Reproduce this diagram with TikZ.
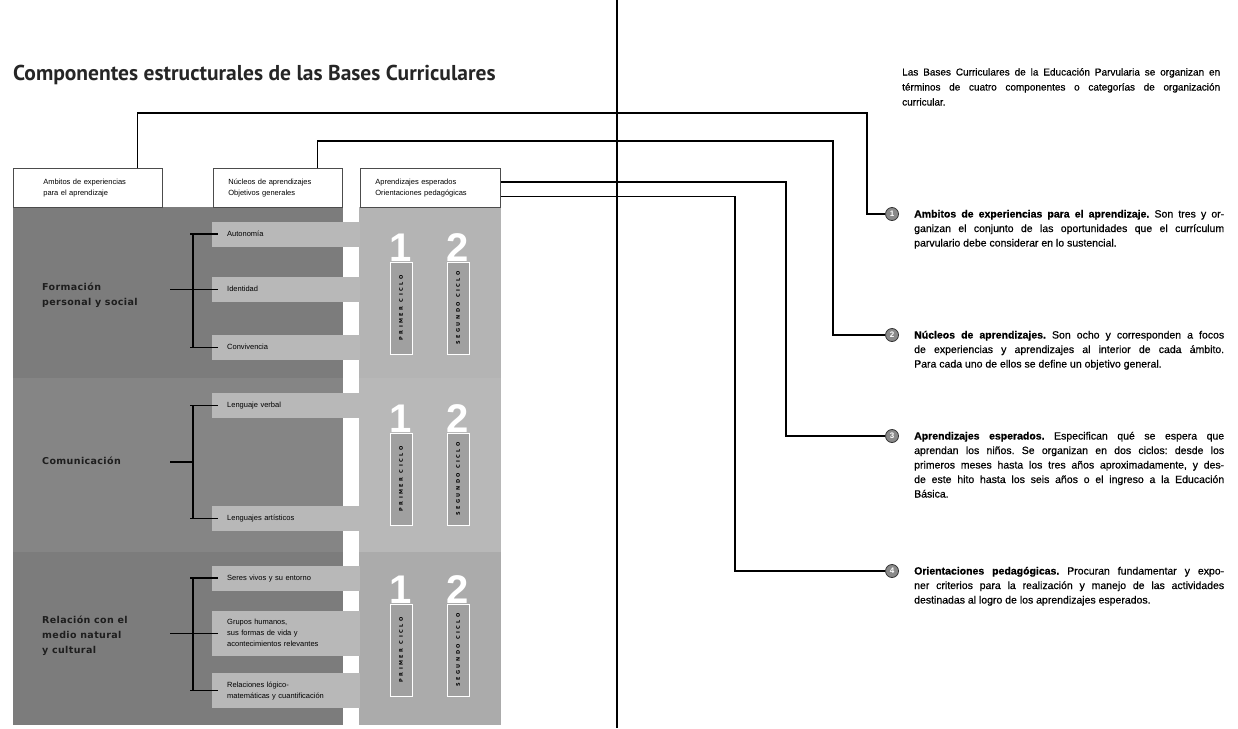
\documentclass[tikz,border=0pt]{standalone}
\usepackage{fontspec}
\setmainfont{Liberation Sans}
\newfontfamily\titlefont{PT Sans}
\newfontfamily\labelfont[LetterSpace=4]{DejaVu Sans}
\newfontfamily\ciclofont[LetterSpace=50]{DejaVu Sans}
\newfontfamily\descfont[FakeBold=0.6]{Liberation Sans}
\usepackage{xcolor}
\usepackage{tikz}
\usetikzlibrary{calc}
\definecolor{panelgray}{RGB}{124, 124, 124}
\definecolor{panelgraymid}{RGB}{133, 133, 133}
\definecolor{softgray}{RGB}{180, 180, 180}
\definecolor{softgraymid}{RGB}{184, 184, 184}
\definecolor{cyclegray}{RGB}{160, 160, 160}
\definecolor{inkgray}{RGB}{30, 30, 30}
\definecolor{dotgray}{RGB}{138, 138, 138}
\newcommand{\indented}[2]{\hspace*{#1}\begin{tabular}{@{}l@{}}#2\end{tabular}}
\frenchspacing

\begin{document}
\begin{tikzpicture}[x=1pt, y=-1pt,
    headbox/.style={draw=black!70, fill=white, line width=0.8pt, anchor=north west, minimum height=39pt,
        inner xsep=0pt, align=left, font=\fontsize{7.5}{11.5}\selectfont},
    itembox/.style={fill=softgraymid, anchor=west, inner xsep=0pt, inner ysep=0pt, text width=148pt,
        minimum height=25pt, align=left, font=\fontsize{7.5}{11}\selectfont},
    ambito/.style={anchor=west, align=left, inner sep=0pt, text=inkgray,
        font=\labelfont\bfseries\fontsize{9.5}{15}\selectfont},
    cyclebox/.style={draw=white, line width=1pt, fill=cyclegray, rotate=90, minimum width=92pt,
        minimum height=22pt, inner sep=0pt, text=black, font=\ciclofont\bfseries\fontsize{5}{5}\selectfont},
    digit/.style={anchor=base, inner sep=0pt, text=white, font=\bfseries\fontsize{40}{40}\selectfont},
    numdot/.style={circle, fill=dotgray, draw=black!80, line width=0.8pt, minimum size=13pt, inner sep=0pt,
        text=white, font=\bfseries\fontsize{8}{8}\selectfont},
    desc/.style={anchor=base west, inner sep=0pt, text width=310pt, align=justify,
        font=\descfont\fontsize{10.5}{14.5}\selectfont},
    conn/.style={line width=1.2pt, black},
    bracket/.style={line width=1.2pt, black}]
\useasboundingbox (0,0) rectangle (1238,728);

% title
\node[anchor=base west, inner sep=0pt, text=black!85, font=\titlefont\bfseries\fontsize{21.5}{24}\selectfont]
    (title) at (13,80) {Componentes estructurales de las Bases Curriculares};

% panels
\fill[panelgray] (13,207) rectangle (343,378);
\fill[panelgraymid] (13,378) rectangle (343,552);
\fill[panelgray] (13,552) rectangle (343,725);
\fill[softgray] (359,207) rectangle (501,378);
\fill[softgraymid] (359,378) rectangle (501,552);
\fill[softgray!95!black] (359,552) rectangle (501,725);

% column heads
\node[headbox, text width=149pt] (ambitos) at (13,168) {\indented{30pt}{Ambitos de experiencias\\para el aprendizaje}};
\node[headbox, text width=129pt] (nucleos) at (213,168) {\indented{15pt}{Núcleos de aprendizajes\\Objetivos generales}};
\node[headbox, text width=140pt] (aprend) at (360,168) {\indented{15pt}{Aprendizajes esperados\\Orientaciones pedagógicas}};

% ambitos
\node[ambito] (formacion) at (42,295) {Formación\\personal y social};
\node[ambito] (comunicacion) at (42,461) {Comunicación};
\node[ambito] (relacion) at (42,636) {Relación con el\\medio natural\\y cultural};

% nucleos
\node[itembox] (autonomia) at (212,234) {\indented{15pt}{Autonomía}};
\node[itembox] (identidad) at (212,289.5) {\indented{15pt}{Identidad}};
\node[itembox] (convivencia) at (212,347.5) {\indented{15pt}{Convivencia}};
\node[itembox] (verbal) at (212,405.5) {\indented{15pt}{Lenguaje verbal}};
\node[itembox] (artisticos) at (212,518.5) {\indented{15pt}{Lenguajes artísticos}};
\node[itembox] (seres) at (212,578) {\indented{15pt}{Seres vivos y su entorno}};
\node[itembox, minimum height=45pt] (grupos) at (212,633.5) {\indented{15pt}{Grupos humanos,\\sus formas de vida y\\acontecimientos relevantes}};
\node[itembox, minimum height=35pt] (relaciones) at (212,690.5) {\indented{15pt}{Relaciones lógico-\\matemáticas y cuantificación}};

% brackets
\draw[bracket] ([xshift=-19pt]autonomia.west) -- ([xshift=-19pt]convivencia.west);
\draw[bracket] ([xshift=-19pt]verbal.west) -- ([xshift=-19pt]artisticos.west);
\draw[bracket] ([xshift=-19pt]seres.west) -- ([xshift=-19pt]relaciones.west);
\foreach \n in {autonomia,identidad,convivencia,verbal,artisticos,seres,grupos,relaciones}
    \draw[bracket] ([xshift=-22pt]\n.west) -- ([xshift=6pt]\n.west);
\draw[bracket] ([xshift=-42pt]identidad.west) -- ([xshift=-19pt]identidad.west);
\draw[bracket] ($(verbal.west)!0.5!(artisticos.west)+(-42,0)$) -- ($(verbal.west)!0.5!(artisticos.west)+(-19,0)$);
\draw[bracket] ([xshift=-42pt]grupos.west) -- ([xshift=-19pt]grupos.west);

% ciclos
\foreach \cy/\p in {308/a,479/b,650/c} {
    \node[cyclebox] (primer\p) at (401,\cy) {PRIMER CICLO};
    \node[digit] (uno\p) at (primer\p.east) {1};
    \node[cyclebox] (segundo\p) at (458,\cy) {SEGUNDO CICLO};
    \node[digit] (dos\p) at (segundo\p.east) {2};
}

% divider
\draw[line width=2pt] (617,0) -- (617,728);

% right side
\node[anchor=base west, inner sep=0pt, text width=318pt, align=justify, font=\descfont\fontsize{10}{15}\selectfont]
    (intro) at (902,75.5) {Las Bases Curriculares de la Educación Parvularia se organizan en\linebreak
    términos de cuatro componentes o categorías de organización\linebreak curricular.};

\node[numdot] (num1) at (892,214) {1};
\node[numdot] (num2) at (892,335) {2};
\node[numdot] (num3) at (892,436) {3};
\node[numdot] (num4) at (892,571) {4};

\node[desc] (desc1) at (914,217.5) {\textbf{Ambitos de experiencias para el aprendizaje.} Son tres y or-\linebreak
    ganizan el conjunto de las oportunidades que el currículum\linebreak parvulario debe considerar en lo sustencial.};
\node[desc] (desc2) at (914,338.5) {\textbf{Núcleos de aprendizajes.} Son ocho y corresponden a focos\linebreak
    de experiencias y aprendizajes al interior de cada ámbito.\linebreak Para cada uno de ellos se define un objetivo general.};
\node[desc] (desc3) at (914,439.5) {\textbf{Aprendizajes esperados.} Especifican qué se espera que\linebreak
    aprendan los niños. Se organizan en dos ciclos: desde los\linebreak
    primeros meses hasta los tres años aproximadamente, y des-\linebreak
    de este hito hasta los seis años o el ingreso a la Educación\linebreak Básica.};
\node[desc] (desc4) at (914,574.5) {\textbf{Orientaciones pedagógicas.} Procuran fundamentar y expo-\linebreak
    ner criterios para la realización y manejo de las actividades\linebreak
    destinadas al logro de los aprendizajes esperados.};

% connectors
\coordinate (bend1) at (867,113);
\coordinate (bend2) at (833,141);
\coordinate (bend3) at (786,436);
\coordinate (bend4) at (735,571);
\draw[conn] ([xshift=-25pt]ambitos.north east) |- (bend1) |- (num1);
\draw[conn] ([xshift=-25pt]nucleos.north east) |- (bend2) |- (num2);
\draw[conn] ([yshift=-14pt]aprend.north east) -| (bend3) -- (num3);
\draw[conn] ([yshift=11pt]aprend.south east) -| (bend4) -- (num4);
\end{tikzpicture}
\end{document}
